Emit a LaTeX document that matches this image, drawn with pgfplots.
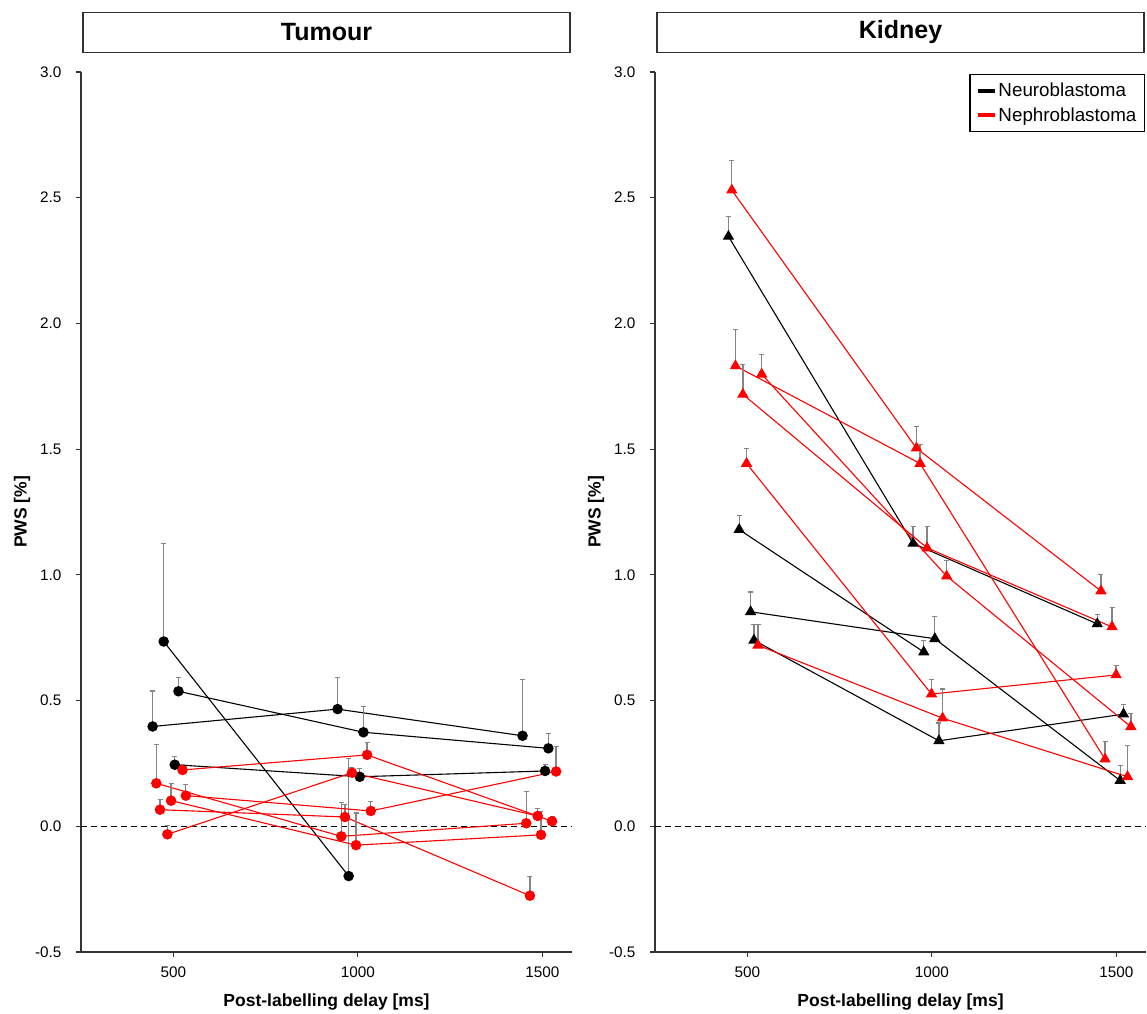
\documentclass[border=0pt]{standalone}
\usepackage{fontspec}
\setmainfont{Liberation Sans}
\usepackage{pgfplots}
\pgfplotsset{compat=1.18}
\definecolor{nred}{HTML}{FF0000}
\definecolor{errgray}{HTML}{858585}
\definecolor{axgray}{HTML}{333333}

\pgfplotsset{
  panel/.style={
    width=491pt, height=880pt, scale only axis, clip=false,
    xmin=250, xmax=1580, ymin=-0.5, ymax=3.0,
    axis x line*=bottom, axis y line*=left,
    axis line style={line width=1.4pt, axgray, -},
    tick align=outside, major tick length=5pt,
    tick style={line width=1.2pt, axgray},
    xtick={500,1000,1500}, xticklabels={500,1000,1500},
    ytick={-0.5,0,0.5,1,1.5,2,2.5,3},
    yticklabels={-0.5,0.0,0.5,1.0,1.5,2.0,2.5,3.0},
    tick label style={font=\fontsize{15.3}{18}\selectfont},
    xticklabel style={yshift=-6pt},
    yticklabel style={xshift=-11pt},
    xlabel={Post-labelling delay [ms]}, ylabel={PWS [\%]},
    label style={font=\fontsize{17.5}{21}\selectfont\bfseries},
    xlabel style={at={(axis description cs:0.5,-0.057)}, anchor=center},
    ylabel style={at={(axis description cs:-0.120,0.5)}, anchor=center},
    title style={at={(axis description cs:0.5,1.0148)}, anchor=south,
      draw=axgray, line width=1.2pt, minimum width=487pt, minimum height=40pt,
      inner sep=0pt, font=\fontsize{25}{30}\selectfont\bfseries},
  },
  ser/.style={forget plot, line width=1.1pt,
    error bars/.cd, y dir=plus, y explicit,
    error bar style={errgray, line width=1.3pt},
    error mark options={rotate=90, errgray, mark size=2.5pt, line width=1.1pt}},
  bc/.style={black, mark=*, mark size=4.7pt, mark options={solid, fill=black}, ser},
  rc/.style={nred, mark=*, mark size=4.7pt, mark options={solid, fill=nred}, ser},
  bt/.style={black, mark=triangle*, mark size=5.5pt, mark options={solid, fill=black}, ser},
  rt/.style={nred, mark=triangle*, mark size=5.5pt, mark options={solid, fill=nred}, ser},
  zero/.style={forget plot, black, dashed, line width=1.3pt, dash pattern=on 6pt off 4pt},
}

\begin{document}
\begin{tikzpicture}
% ---------------- Tumour ----------------
\begin{axis}[panel, at={(0,0)}, anchor=south west, title={Tumour}]
\addplot[zero] coordinates {(250,0) (1580,0)};
% Neuroblastoma
\addplot[bc] table[y error=e] {
x y e
444 0.397 0.141
945 0.466 0.126
1446 0.360 0.225
};
\addplot[bc] table[y error=e] {
x y e
474 0.735 0.388
975 -0.198 0.469
};
\addplot[bc] table[y error=e] {
x y e
504 0.245 0.033
1005 0.197 0.032
1507 0.220 0.025
};
\addplot[bc] table[y error=e] {
x y e
514 0.537 0.055
1015 0.374 0.104
1516 0.310 0.058
};
% Nephroblastoma
\addplot[rc] table[y error=e] {
x y e
454 0.171 0.153
955 -0.040 0.136
1456 0.012 0.127
};
\addplot[rc] table[y error=e] {
x y e
464 0.066 0.040
965 0.037 0.049
1466 -0.276 0.078
};
\addplot[rc] table[y error=e] {
x y e
484 -0.032 0.036
984 0.213 0.022
1487 0.041 0.028
};
\addplot[rc] table[y error=e] {
x y e
494 0.102 0.067
995 -0.075 0.128
1496 -0.034 0.094
};
\addplot[rc] table[y error=e] {
x y e
525 0.224 0.020
1025 0.284 0.051
1526 0.020 0.020
};
\addplot[rc] table[y error=e] {
x y e
534 0.122 0.043
1035 0.061 0.038
1537 0.218 0.099
};
\end{axis}

% ---------------- Kidney ----------------
\begin{axis}[panel, at={(574pt,0)}, anchor=south west, title={Kidney},
  legend style={at={(0.998,0.998)}, anchor=north east, draw=black, line width=1.2pt,
    font=\fontsize{18.8}{22}\selectfont, inner xsep=6pt, inner ysep=7pt,
    cells={anchor=west}, row sep=5pt}]
\addlegendimage{black, line width=3.5pt}
\addlegendentry{Neuroblastoma}
\addlegendimage{nred, line width=3.5pt}
\addlegendentry{Nephroblastoma}
\addplot[zero] coordinates {(250,0) (1580,0)};
% Neuroblastoma
\addplot[bt] table[y error=e] {
x y e
449 2.346 0.078
949 1.125 0.066
1448 0.805 0.038
};
\addplot[bt] table[y error=e] {
x y e
478 1.180 0.056
978 0.693 0.047
};
\addplot[bt] table[y error=e] {
x y e
509 0.853 0.079
1008 0.746 0.089
1510 0.182 0.061
};
\addplot[bt] table[y error=e] {
x y e
518 0.740 0.062
1019 0.340 0.071
1519 0.446 0.038
};
% Nephroblastoma
\addplot[rt] table[y error=e] {
x y e
458 2.530 0.117
958 1.504 0.085
1458 0.936 0.066
};
\addplot[rt] table[y error=e] {
x y e
468 1.831 0.145
968 1.443 0.076
1469 0.267 0.069
};
\addplot[rt] table[y error=e] {
x y e
488 1.718 0.117
987 1.107 0.087
1488 0.793 0.076
};
\addplot[rt] table[y error=e] {
x y e
498 1.443 0.060
999 0.526 0.057
1499 0.602 0.037
};
\addplot[rt] table[y error=e] {
x y e
529 0.720 0.082
1029 0.430 0.116
1530 0.197 0.124
};
\addplot[rt] table[y error=e] {
x y e
539 1.798 0.077
1040 0.995 0.062
1539 0.396 0.054
};
\end{axis}
\pgfresetboundingbox
\useasboundingbox (-81pt,-61pt) rectangle (1066pt,952pt);
\end{tikzpicture}
\end{document}
